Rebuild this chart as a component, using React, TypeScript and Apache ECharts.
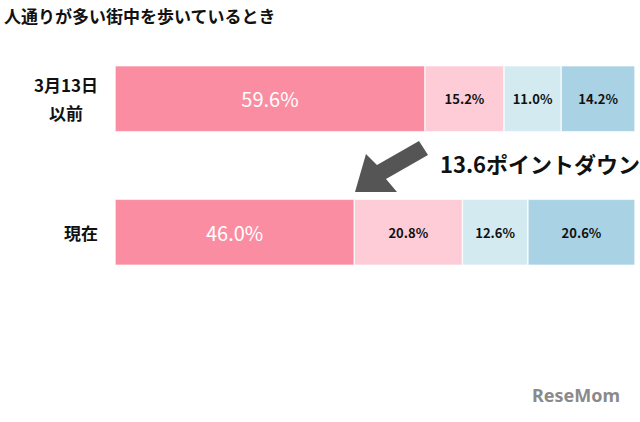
import React, { useEffect, useRef } from "react";
import * as echarts from "echarts";

const title = "人通りが多い街中を歩いているとき";
const categories = ["3月13日\n以前", "現在"];
const seriesNames = ["回答1", "回答2", "回答3", "回答4"];
const seg1 = [59.6, 46.0];
const seg2 = [15.2, 20.8];
const seg3 = [11.0, 12.6];
const seg4 = [14.2, 20.6];
const colors = ["#FB8DA2", "#FDCCD7", "#D4EAF1", "#A9D3E4"];
const annotation = "13.6ポイントダウン";
const logoText = "ReseMom";

const FONT = "'Noto Sans CJK JP', 'Noto Sans', sans-serif";

export default function App() {
  const ref = useRef<HTMLDivElement>(null);
  useEffect(() => {
    if (!ref.current) return;
    const chart = echarts.init(ref.current, undefined, { renderer: "svg" });
    const values = [seg1, seg2, seg3, seg4];
    const series = values.map((vals, i) => ({
      name: seriesNames[i],
      type: "bar" as const,
      stack: "total",
      barWidth: 66,
      data: vals,
      itemStyle: { color: colors[i], borderColor: "#ffffff", borderWidth: 0.6 },
      label: {
        show: true,
        position: "inside" as const,
        formatter: (p: any) => p.value.toFixed(1) + "%",
        color: i === 0 ? "#ffffff" : "#111111",
        fontSize: i === 0 ? 20 : 13,
        fontWeight: i === 0 ? ("normal" as const) : ("bold" as const),
        fontFamily: FONT,
      },
    }));
    chart.setOption({
      animation: false,
      textStyle: { fontFamily: FONT },
      grid: { left: 115, right: 5, top: 32, bottom: 123, containLabel: false },
      xAxis: { type: "value", min: 0, max: 100, show: false },
      yAxis: {
        type: "category",
        data: categories,
        inverse: true,
        axisLine: { show: false },
        axisTick: { show: false },
        axisLabel: {
          margin: 17,
          formatter: (v: string) =>
            v
              .split("\n")
              .map((l, i) => (i === 0 ? `{a|${l}}` : `{b|${l}}`))
              .join("\n"),
          rich: {
            a: { fontSize: 17, fontWeight: "bold", color: "#111", fontFamily: FONT, lineHeight: 28 },
            b: { fontSize: 17, fontWeight: "bold", color: "#111", fontFamily: FONT, lineHeight: 28, align: "center" },
          },
        },
      },
      series,
      graphic: [
        {
          type: "text",
          left: 4,
          top: 7,
          style: { text: title, fontSize: 17, fontWeight: "bold", fill: "#111", fontFamily: FONT },
        },
        {
          type: "polygon",
          shape: {
            points: [
              [355, 192],
              [366, 154],
              [377, 165],
              [419, 141],
              [428, 155],
              [386, 179],
              [397, 192],
            ],
          },
          style: { fill: "#555555" },
        },
        {
          type: "text",
          x: 440,
          y: 163,
          style: {
            text: annotation,
            fontSize: 22,
            fontWeight: "bold",
            fill: "#111",
            fontFamily: FONT,
            verticalAlign: "middle",
          },
        },
        {
          type: "text",
          x: 532,
          y: 395,
          style: {
            text: logoText,
            fontSize: 18,
            fontWeight: "bold",
            fill: "#8a8a8a",
            fontFamily: "'Noto Sans', sans-serif",
            verticalAlign: "middle",
          },
        },
      ],
    });
    return () => chart.dispose();
  }, []);
  return (
    <div
      ref={ref}
      style={{ position: "absolute", left: 0, top: 0, width: 640, height: 422, background: "#fff" }}
    />
  );
}
